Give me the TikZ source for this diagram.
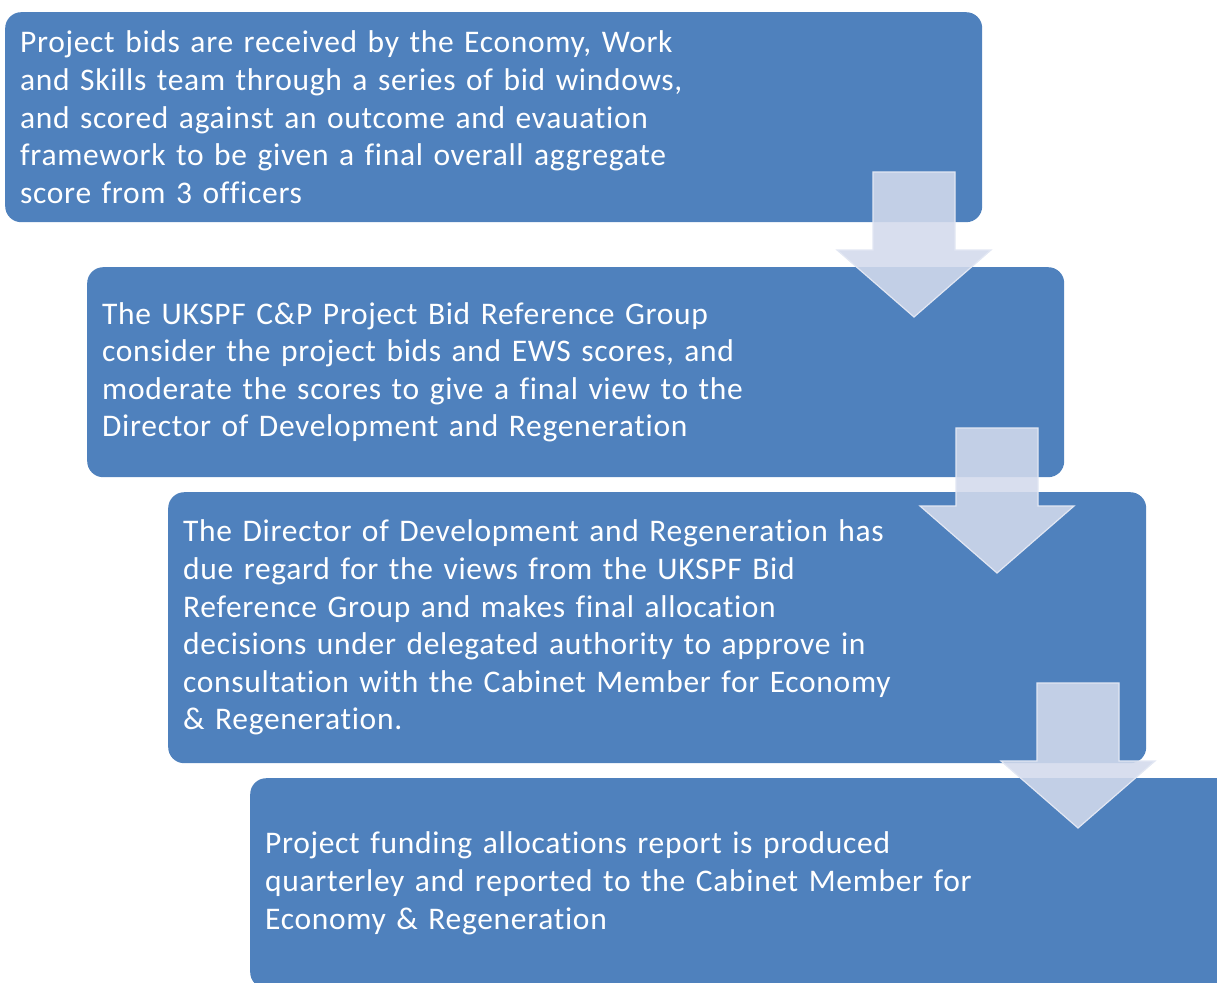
\documentclass[tikz,border=0pt]{standalone}
\usepackage{fontspec}
\setmainfont[Ligatures=NoCommon,LetterSpace=2.2]{Carlito}
\definecolor{boxblue}{RGB}{79,129,189}
\definecolor{arrowfill}{RGB}{211,218,236}
\definecolor{arrowedge}{RGB}{226,231,243}
\begin{document}
\begin{tikzpicture}[x=1pt,y=-1pt,
  stepbox/.style={fill=boxblue, draw=none, rounded corners=16pt, anchor=north west,
    inner xsep=15pt, inner ysep=0pt, align=left, text=white,
    font=\fontsize{31.5}{37.6}\selectfont},
  flowarrow/.style={fill=arrowfill, fill opacity=0.88, draw=arrowedge, line width=1.2pt, line join=miter}]
\useasboundingbox (0,0) rectangle (1217,982);
\clip (0,0) rectangle (1217,982);
\node[stepbox, minimum width=977pt, minimum height=210pt, text width=947pt] (b1) at (5,12)
 {Project bids are received by the Economy, Work\\and Skills team through a series of bid windows,\\and scored against an outcome and evauation\\framework to be given a final overall aggregate\\score from 3 officers};
\node[stepbox, minimum width=977pt, minimum height=210pt, text width=947pt] (b2) at (87,267)
 {The UKSPF C\&P Project Bid Reference Group\\consider the project bids and EWS scores, and\\moderate the scores to give a final view to the\\Director of Development and Regeneration};
\node[stepbox, minimum width=978pt, minimum height=271pt, text width=948pt] (b3) at (168,492)
 {The Director of Development and Regeneration has\\due regard for the views from the UKSPF Bid\\Reference Group and makes final allocation\\decisions under delegated authority to approve in\\consultation with the Cabinet Member for Economy\\\& Regeneration.};
\node[stepbox, minimum width=990pt, minimum height=210pt, text width=960pt] (b4) at (250,778)
 {Project funding allocations report is produced\\quarterley and reported to the Cabinet Member for\\Economy \& Regeneration};
% arrows
\coordinate (a1) at (914,172);
\coordinate (a2) at (997,428);
\coordinate (a3) at (1078,683);
\foreach \a in {a1,a2,a3}{
  \draw[flowarrow] ([xshift=-41pt]\a) -- ([xshift=41pt]\a) -- ([xshift=41pt,yshift=-78pt]\a)
    -- ([xshift=77pt,yshift=-78pt]\a) -- ([yshift=-145pt]\a) -- ([xshift=-77pt,yshift=-78pt]\a)
    -- ([xshift=-41pt,yshift=-78pt]\a) -- cycle;
}
\end{tikzpicture}
\end{document}
